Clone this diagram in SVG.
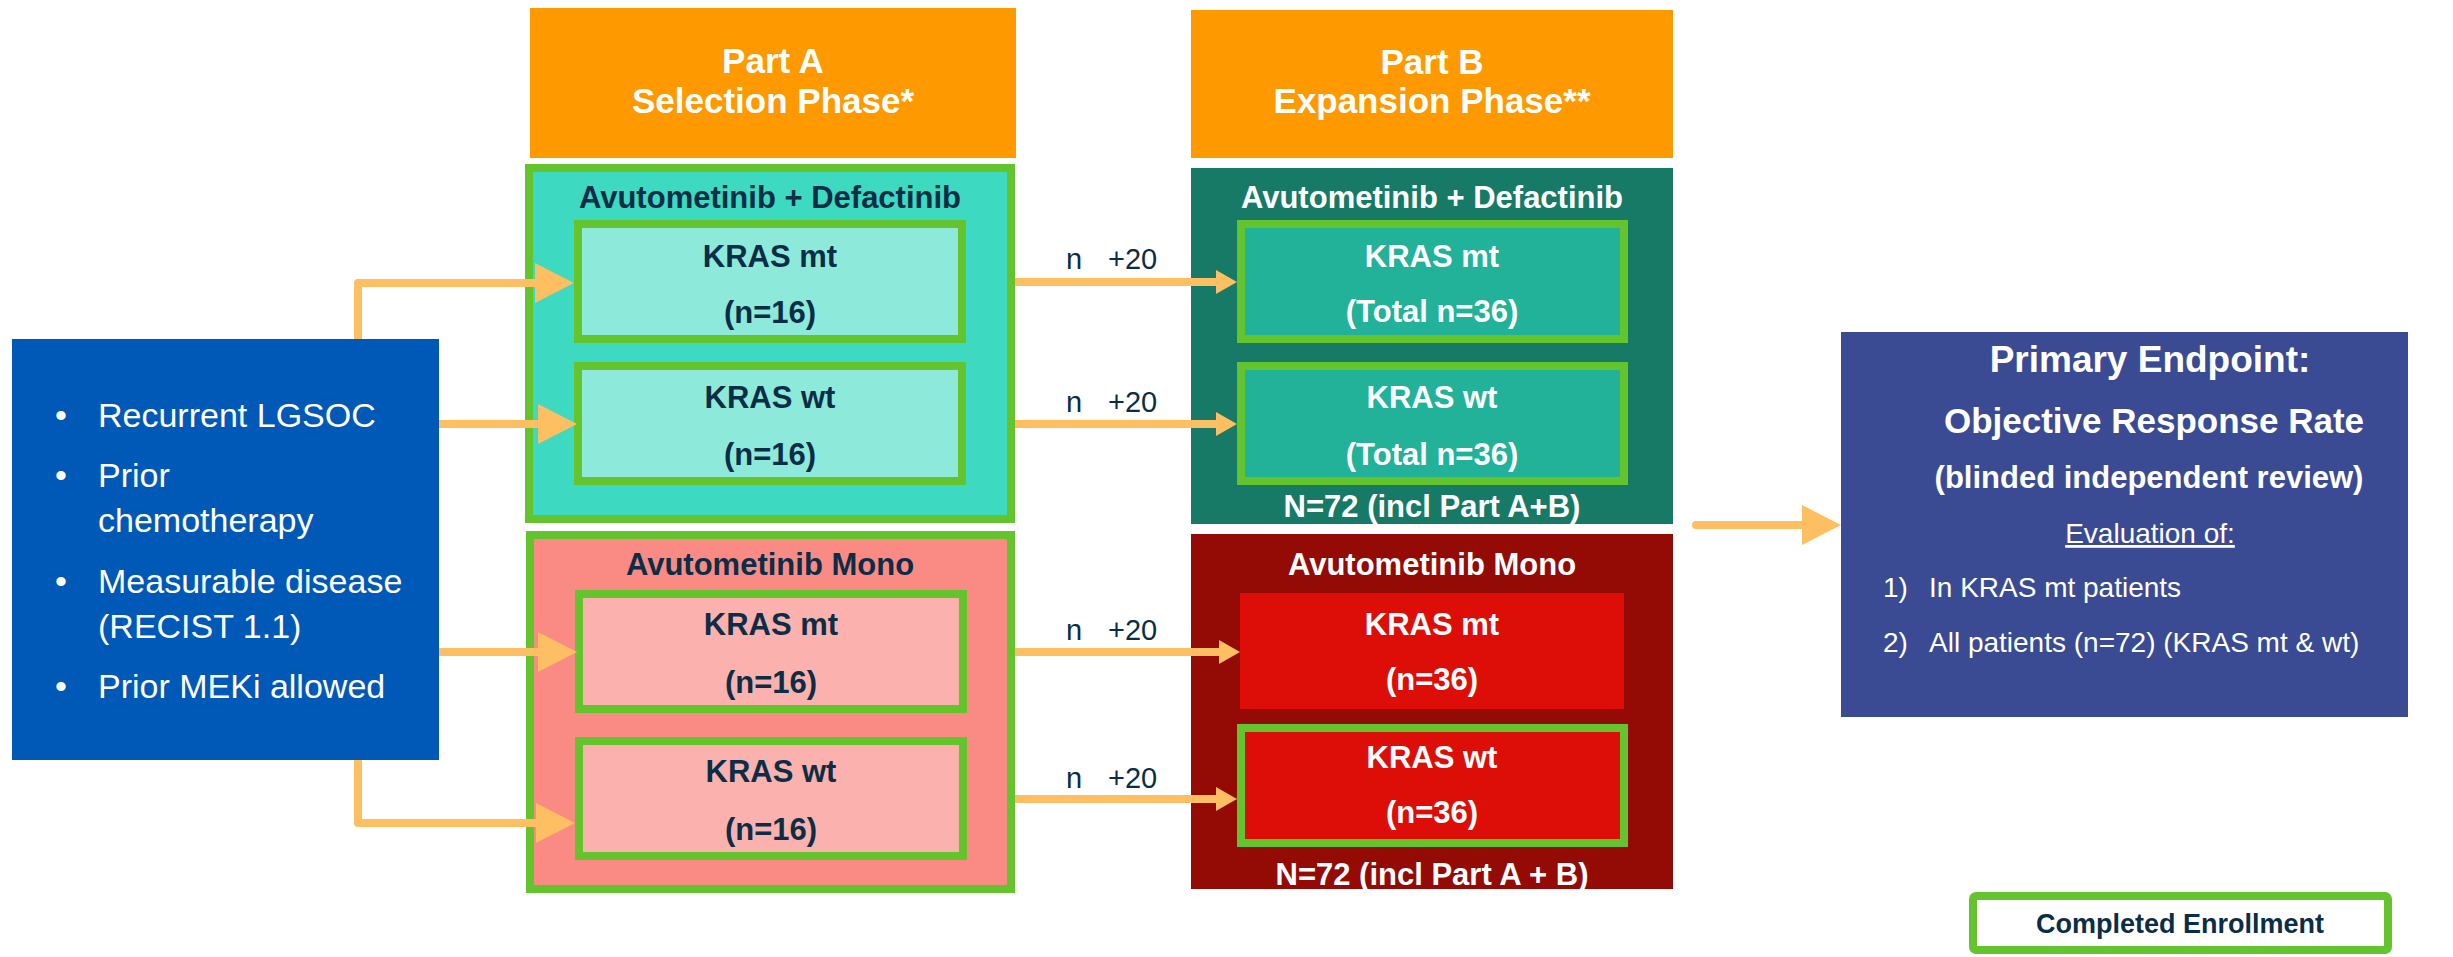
<svg xmlns="http://www.w3.org/2000/svg" width="2453" height="957" viewBox="0 0 2453 957">
<defs>
<style>
text{font-family:"Liberation Sans",Arial,sans-serif}
.hdr{fill:#FF9900}
.hdrt{fill:#fff;font-weight:bold;font-size:35px;text-anchor:middle}
.gb{stroke:#63C42D;stroke-width:8}
.t31{font-size:31px;font-weight:bold;text-anchor:middle}
.dk{fill:#0B2D46}
.wh{fill:#fff}
.bul{fill:#fff;font-size:34px}
.lbl{fill:#0B2D46;font-size:29px}
.con{fill:none;stroke:#FEBE62;stroke-width:8;stroke-linejoin:round}
.ep{fill:#fff;text-anchor:middle;font-weight:bold}
.epl{fill:#fff;font-size:28px}
</style>
<marker id="big" markerUnits="userSpaceOnUse" markerWidth="40" markerHeight="40" refX="19" refY="20" orient="auto" viewBox="0 0 40 40">
<path d="M0,0 L39,20 L0,40 Z" fill="#FEBE62"/>
</marker>
<marker id="small" markerUnits="userSpaceOnUse" markerWidth="22" markerHeight="24" refX="9" refY="12" orient="auto" viewBox="0 0 22 24">
<path d="M0,0 L21,12 L0,24 Z" fill="#FEBE62"/>
</marker>
</defs>
<rect width="2453" height="957" fill="#fff"/>

<g id="partA-header">
<rect class="hdr" x="530" y="8" width="486" height="150"/>
<text class="hdrt" x="773" y="73">Part A</text>
<text class="hdrt" x="773" y="113">Selection Phase*</text>
</g>

<g id="partB-header">
<rect class="hdr" x="1191" y="10" width="482" height="148"/>
<text class="hdrt" x="1432" y="74">Part B</text>
<text class="hdrt" x="1432" y="113">Expansion Phase**</text>
</g>

<g id="eligibility">
<rect x="12" y="339" width="427" height="421" fill="#0058B7"/>
<text class="bul" x="61" y="427" text-anchor="middle">•</text>
<text class="bul" x="98" y="427">Recurrent LGSOC</text>
<text class="bul" x="61" y="487" text-anchor="middle">•</text>
<text class="bul" x="98" y="487">Prior</text>
<text class="bul" x="98" y="532">chemotherapy</text>
<text class="bul" x="61" y="593" text-anchor="middle">•</text>
<text class="bul" x="98" y="593">Measurable disease</text>
<text class="bul" x="98" y="638">(RECIST 1.1)</text>
<text class="bul" x="61" y="698" text-anchor="middle">•</text>
<text class="bul" x="98" y="698">Prior MEKi allowed</text>
</g>

<g id="partA-combo">
<rect class="gb" x="529" y="168" width="482" height="351" fill="#3DD9C1"/>
<text class="t31 dk" x="770" y="208">Avutometinib + Defactinib</text>
</g>
<g id="partA-combo-mt">
<rect class="gb" x="578" y="224" width="384" height="115" fill="#8DE9DA"/>
<text class="t31 dk" x="770" y="267">KRAS mt</text>
<text class="t31 dk" x="770" y="323">(n=16)</text>
</g>
<g id="partA-combo-wt">
<rect class="gb" x="578" y="366" width="384" height="115" fill="#8DE9DA"/>
<text class="t31 dk" x="770" y="408">KRAS wt</text>
<text class="t31 dk" x="770" y="465">(n=16)</text>
</g>

<g id="partA-mono">
<rect class="gb" x="530" y="535" width="481" height="354" fill="#F98B84"/>
<text class="t31 dk" x="770" y="575">Avutometinib Mono</text>
</g>
<g id="partA-mono-mt">
<rect class="gb" x="579" y="594" width="384" height="115" fill="#FBB2AE"/>
<text class="t31 dk" x="771" y="635">KRAS mt</text>
<text class="t31 dk" x="771" y="693">(n=16)</text>
</g>
<g id="partA-mono-wt">
<rect class="gb" x="579" y="741" width="384" height="115" fill="#FBB2AE"/>
<text class="t31 dk" x="771" y="782">KRAS wt</text>
<text class="t31 dk" x="771" y="840">(n=16)</text>
</g>

<g id="partB-combo">
<rect x="1191" y="168" width="482" height="356" fill="#177A66"/>
<text class="t31 wh" x="1432" y="208">Avutometinib + Defactinib</text>
<text class="t31 wh" x="1432" y="517">N=72 (incl Part A+B)</text>
</g>
<g id="partB-combo-mt">
<rect class="gb" x="1241" y="224" width="383" height="115" fill="#22B299"/>
<text class="t31 wh" x="1432" y="267">KRAS mt</text>
<text class="t31 wh" x="1432" y="322">(Total n=36)</text>
</g>
<g id="partB-combo-wt">
<rect class="gb" x="1241" y="366" width="383" height="115" fill="#22B299"/>
<text class="t31 wh" x="1432" y="408">KRAS wt</text>
<text class="t31 wh" x="1432" y="465">(Total n=36)</text>
</g>

<g id="partB-mono">
<rect x="1191" y="534" width="482" height="355" fill="#940A05"/>
<text class="t31 wh" x="1432" y="575">Avutometinib Mono</text>
<text class="t31 wh" x="1432" y="885">N=72 (incl Part A + B)</text>
</g>
<g id="partB-mono-mt">
<rect x="1240" y="593" width="384" height="116" fill="#DD0E08"/>
<text class="t31 wh" x="1432" y="635">KRAS mt</text>
<text class="t31 wh" x="1432" y="690">(n=36)</text>
</g>
<g id="partB-mono-wt">
<rect class="gb" x="1241" y="728" width="383" height="115" fill="#DD0E08"/>
<text class="t31 wh" x="1432" y="768">KRAS wt</text>
<text class="t31 wh" x="1432" y="823">(n=36)</text>
</g>

<g id="endpoint">
<rect x="1841" y="332" width="567" height="385" fill="#3A4B94"/>
<text class="ep" x="2150" y="372" font-size="37">Primary Endpoint:</text>
<text class="ep" x="2154" y="433" font-size="35">Objective Response Rate</text>
<text class="ep" x="2149" y="488" font-size="31">(blinded independent review)</text>
<text x="2150" y="543" fill="#fff" font-size="28" text-anchor="middle" text-decoration="underline">Evaluation of:</text>
<text class="epl" x="1883" y="597">1)</text>
<text class="epl" x="1929" y="597">In KRAS mt patients</text>
<text class="epl" x="1883" y="652">2)</text>
<text class="epl" x="1929" y="652">All patients (n=72) (KRAS mt &amp; wt)</text>
</g>

<g id="legend">
<rect x="1973" y="896" width="415" height="54" rx="3" fill="#fff" stroke="#63C42D" stroke-width="8"/>
<text x="2180" y="933" fill="#0B2D46" font-size="27" font-weight="bold" text-anchor="middle">Completed Enrollment</text>
</g>

<g id="connectors">
<path class="con" d="M358,339 V283 H554" marker-end="url(#big)"/>
<path class="con" d="M439,424 H557" marker-end="url(#big)"/>
<path class="con" d="M439,652 H557" marker-end="url(#big)"/>
<path class="con" d="M358,760 V823 H555" marker-end="url(#big)"/>
<path class="con" d="M1015,282 H1225" marker-end="url(#small)"/>
<path class="con" d="M1015,424 H1225" marker-end="url(#small)"/>
<path class="con" d="M1015,652 H1228" marker-end="url(#small)"/>
<path class="con" d="M1015,799 H1225" marker-end="url(#small)"/>
<path class="con" d="M1696,525 H1821" stroke-linecap="round" marker-end="url(#big)"/>
<text class="lbl" x="1066" y="269">n</text><text class="lbl" x="1108" y="269">+20</text>
<text class="lbl" x="1066" y="412">n</text><text class="lbl" x="1108" y="412">+20</text>
<text class="lbl" x="1066" y="640">n</text><text class="lbl" x="1108" y="640">+20</text>
<text class="lbl" x="1066" y="788">n</text><text class="lbl" x="1108" y="788">+20</text>
</g>
</svg>
